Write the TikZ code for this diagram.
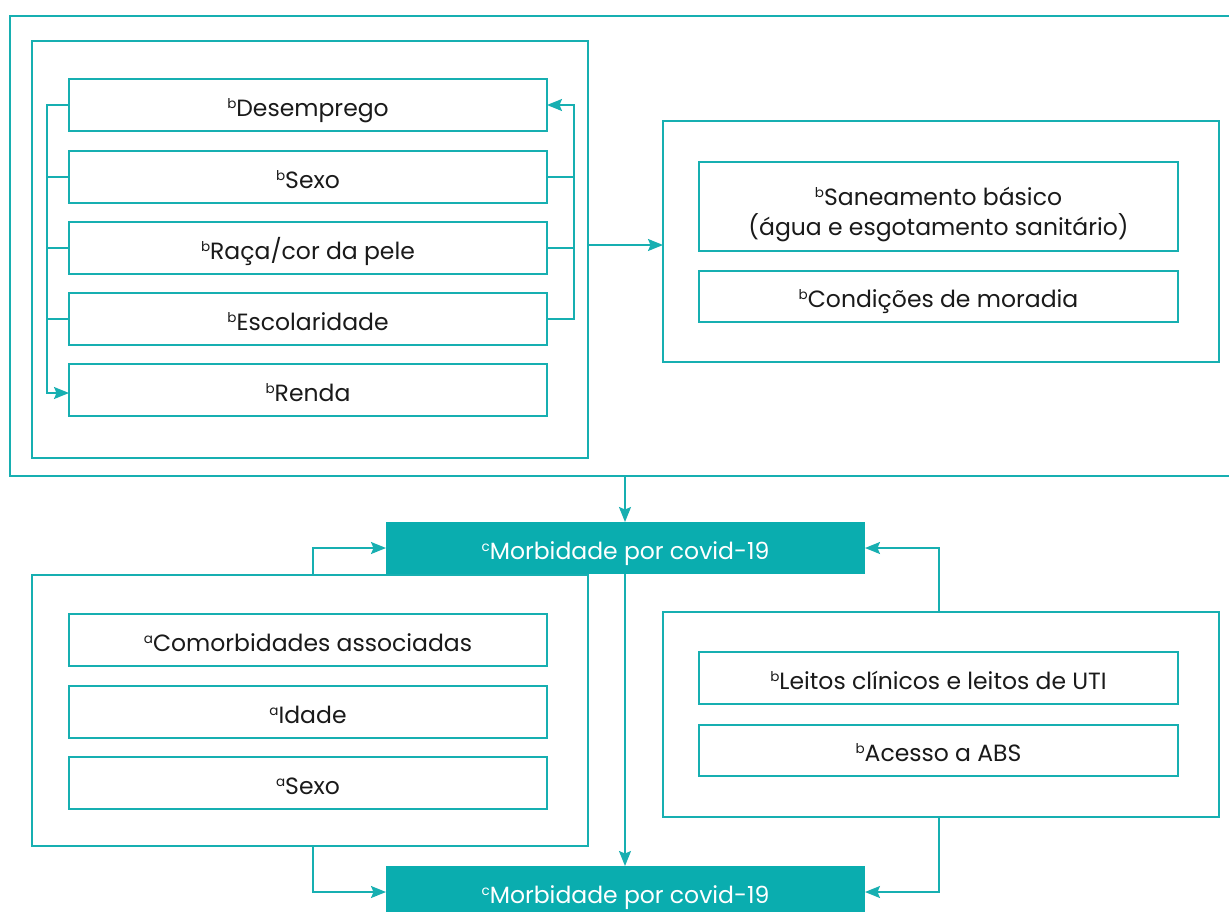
\documentclass[tikz,border=0pt]{standalone}
\usepackage{fontspec}
\setmainfont{Poppins}
\usetikzlibrary{arrows.meta}
\definecolor{tealline}{HTML}{17AFB1}
\definecolor{tealfill}{HTML}{0AADAF}
\definecolor{txt}{HTML}{1A1A1A}
\newcommand\sx[1]{\raisebox{8pt}{\fontsize{13.5}{13.5}\selectfont #1}}
\begin{document}
\begin{tikzpicture}[x=1pt,y=-1pt,
  line/.style={draw=tealline,line width=1.5pt},
  arr/.style={line,-{Stealth[length=15pt,width=12pt,inset=2.5pt]}},
  frame/.style={draw=tealline,line width=1.5pt,inner sep=0pt,outer sep=0pt},
  itembox/.style={draw=tealline,line width=1.5pt,minimum width=478pt,minimum height=52pt,
    inner sep=0pt,outer sep=0pt,font=\fontsize{23.5}{30}\selectfont,text=txt,align=center,
    text height=22pt,text depth=0pt},
  plaintext/.style={inner sep=0pt,font=\fontsize{23.5}{30}\selectfont,text=txt,align=center},
  mbox/.style={fill=tealfill,minimum width=479pt,minimum height=52pt,inner sep=0pt,outer sep=0pt,
    font=\fontsize{23.5}{30}\selectfont,text=white,text height=22pt,text depth=0pt}]
\useasboundingbox (0,0) rectangle (1229,911);
\clip (0,0) rectangle (1229,911);
\fill[white] (0,0) rectangle (1229,911);

% top outer frame (open on the right)
\node[frame,minimum width=1230pt,minimum height=460pt] (outer) at (625,246) {};
% inner left frame
\node[frame,minimum width=556pt,minimum height=417pt] (inl) at (310,249.5) {};
\node[itembox] (d1) at (308,105) {\sx{b}Desemprego};
\node[itembox] (d2) at (308,177) {\sx{b}Sexo};
\node[itembox] (d3) at (308,248) {\sx{b}Raça/cor da pele};
\node[itembox] (d4) at (308,319) {\sx{b}Escolaridade};
\node[itembox] (d5) at (308,390) {\sx{b}Renda};
% right panel
\node[frame,minimum width=556pt,minimum height=241pt] (rp) at (941,241.5) {};
\node[frame,minimum width=479pt,minimum height=89pt] (s1) at (938.5,206.5) {};
\node[plaintext] (s1t) at ([yshift=-8pt]s1.center) {\sx{b}Saneamento básico\\(água e esgotamento sanitário)};
\node[itembox,minimum width=479pt,minimum height=51pt] (s2) at (938.5,296.5) {\sx{b}Condições de moradia};

% morbidity boxes
\node[mbox] (mt) at (625.5,548) {\sx{c}Morbidade por covid-19};
\node[mbox] (mb) at (625.5,892) {\sx{c}Morbidade por covid-19};

% lower left frame
\node[frame,minimum width=556pt,minimum height=271pt] (ll) at (310,710.5) {};
\node[itembox] (c1) at (308,640) {\sx{a}Comorbidades associadas};
\node[itembox] (c2) at (308,712) {\sx{a}Idade};
\node[itembox] (c3) at (308,783) {\sx{a}Sexo};
% lower right frame
\node[frame,minimum width=556pt,minimum height=205pt] (lr) at (941,714.5) {};
\node[itembox,minimum width=479pt] (h1) at (938.5,678) {\sx{b}Leitos clínicos e leitos de UTI};
\node[itembox,minimum width=479pt,minimum height=51pt] (h2) at (938.5,750.5) {\sx{b}Acesso a ABS};

% left bus
\draw[arr] (d1.west) -- ++(-22,0) |- ([yshift=-3pt]d5.west);
\draw[line] (d2.west) -- ++(-22,0);
\draw[line] (d3.west) -- ++(-22,0);
\draw[line] (d4.west) -- ++(-22,0);
% right bus
\draw[arr] (d4.east) -- ++(27,0) |- (d1.east);
\draw[line] (d2.east) -- ++(27,0);
\draw[line] (d3.east) -- ++(27,0);
% inner left -> right panel
\draw[arr] ([yshift=4.5pt]inl.east) -- ([yshift=4.5pt]inl.east -| rp.west);
% outer -> morbidity top
\draw[arr] ([xshift=-0.5pt]mt.north |- outer.south) -- ([xshift=-0.5pt]mt.north);
% lower frames -> morbidity top
\draw[arr] ([xshift=3pt]ll.north) |- (mt.west);
\draw[arr] ([xshift=-2pt]lr.north) |- (mt.east);
% morbidity top -> bottom
\draw[arr] ([xshift=-0.5pt]mt.south) -- ([xshift=-0.5pt]mb.north);
% lower frames -> morbidity bottom
\draw[arr] ([xshift=3pt]ll.south) |- (mb.west);
\draw[arr] ([xshift=-2pt]lr.south) |- (mb.east);
\end{tikzpicture}
\end{document}
